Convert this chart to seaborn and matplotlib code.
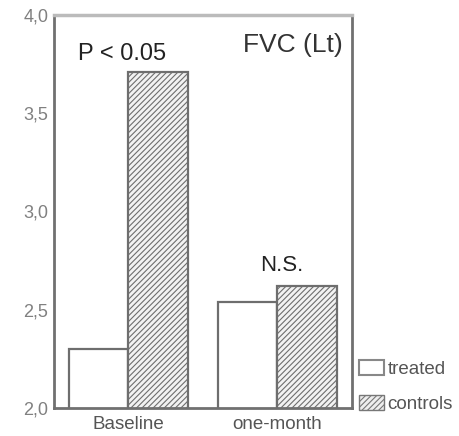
import matplotlib
matplotlib.use("Agg")
import matplotlib.pyplot as plt
import seaborn as sns
import pandas as pd
from matplotlib.patches import Patch

categories = ["Baseline", "one-month"]
groups = ["treated", "controls"]
treated = [2.30, 2.54]
controls = [3.71, 2.62]
yticks = [2.0, 2.5, 3.0, 3.5, 4.0]
ytick_labels = ["2,0", "2,5", "3,0", "3,5", "4,0"]

df = pd.DataFrame({
    "period": categories * 2,
    "group": ["treated"] * 2 + ["controls"] * 2,
    "fvc": treated + controls,
})

sns.set_style("white")
plt.rcParams["font.family"] = ["Liberation Sans", "DejaVu Sans"]
plt.rcParams["hatch.color"] = "#666666"
plt.rcParams["hatch.linewidth"] = 0.8

fig = plt.figure(figsize=(4.6, 4.36), dpi=100)
ax = fig.add_axes([0.117, 0.064, 0.648, 0.902])

sns.barplot(data=df, x="period", y="fvc", hue="group", hue_order=groups,
            order=categories, palette=["white", "white"], width=0.8,
            edgecolor="#6e6e6e", linewidth=1.6, ax=ax, legend=False)

for cont, hatch in zip(ax.containers, ["", "//////"]):
    for bar in cont:
        bar.set_hatch(hatch)
        if hatch:
            bar.set_facecolor("#f2f2f2")

ax.set_ylim(2.0, 4.0)
ax.set_xlim(-0.5, 1.5)
ax.set_yticks(yticks)
ax.set_yticklabels(ytick_labels, fontsize=13, color="#808080")
ax.tick_params(axis="y", length=3, width=1.5, color="#333333", pad=1)
ax.tick_params(axis="x", length=0, labelsize=13.5, labelcolor="#555555", pad=6)
ax.set_xlabel("")
ax.set_ylabel("")

for side in ["left", "bottom", "right"]:
    ax.spines[side].set_visible(True)
    ax.spines[side].set_color("#707070")
    ax.spines[side].set_linewidth(2)
ax.spines["top"].set_visible(True)
ax.spines["top"].set_color("#bbbbbb")
ax.spines["top"].set_linewidth(2.5)

ax.text(-0.04, 3.80, "P < 0.05", ha="center", va="center", fontsize=17, color="#222222")
ax.text(1.436, 3.847, "FVC (Lt)", ha="right", va="center", fontsize=19, color="#333333")
ax.text(1.027, 2.723, "N.S.", ha="center", va="center", fontsize=16, color="#222222")

handles = [Patch(facecolor="white", edgecolor="#888888", linewidth=1.5, label="treated"),
           Patch(facecolor="#eeeeee", edgecolor="#777777", hatch="//////", label="controls")]
fig.legend(handles=handles, loc="lower left", bbox_to_anchor=(0.765, 0.035),
           frameon=False, fontsize=13.5, handlelength=1.3, handleheight=0.85,
           handletextpad=0.2, labelspacing=0.9, labelcolor="#555555",
           borderaxespad=0.0)

fig.savefig("out.png", dpi=100)
